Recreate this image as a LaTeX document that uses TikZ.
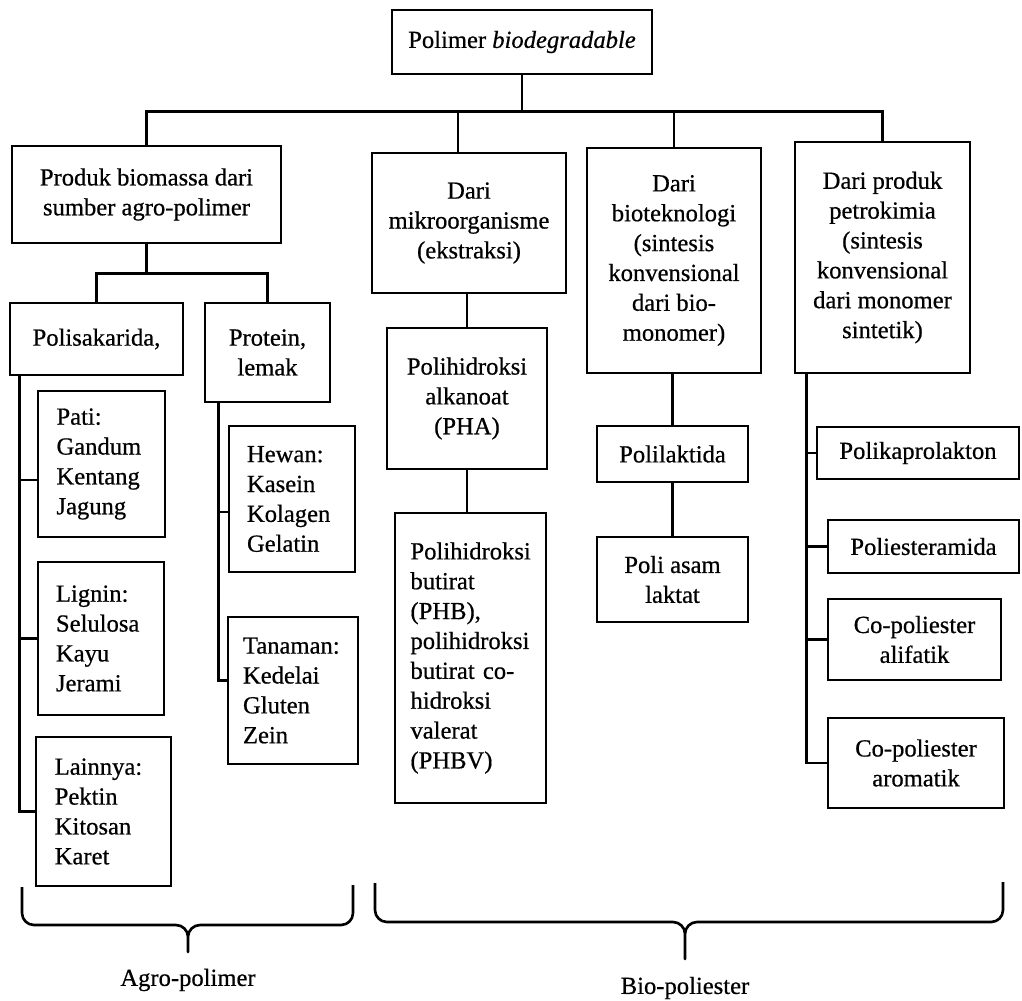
\documentclass[tikz,border=0pt]{standalone}
\usepackage{fontspec}
\setmainfont{Liberation Serif}[FakeBold=0.6]
\begin{document}
\begin{tikzpicture}[x=0.02cm,y=-0.02cm,
  every node/.style={font=\fontsize{14}{17}\selectfont},
  box/.style={draw,line width=1.5pt,align=center,inner sep=0pt},
  lbox/.style={draw,line width=1.5pt,align=left,inner sep=0pt},
  conn/.style={line width=1.5pt},
  brace/.style={line width=1.5pt,line join=round}]
\useasboundingbox (0,0) rectangle (1022,1001);

% top level
\node[box,minimum width=5.2cm,minimum height=1.28cm] (top) at (522,42) {Polimer \textit{biodegradable}};
\node[box,minimum width=5.38cm,minimum height=1.94cm] (b1) at (146.5,194.5) {Produk biomassa dari\\sumber agro-polimer};
\node[box,minimum width=3.88cm,minimum height=2.8cm] (b2) at (469,223) {Dari\\mikroorganisme\\(ekstraksi)};
\node[box,minimum width=3.48cm,minimum height=4.5cm] (b3) at (674,260.5) {Dari\\bioteknologi\\(sintesis\\konvensional\\dari bio-\\monomer)};
\node[box,minimum width=3.5cm,minimum height=4.62cm] (b4) at (882.5,257.5) {Dari produk\\petrokimia\\(sintesis\\konvensional\\dari monomer\\sintetik)};

% agro-polymer branch
\node[box,minimum width=3.46cm,minimum height=1.44cm] (pol) at (96.5,339) {Polisakarida,};
\node[box,minimum width=2.5cm,minimum height=1.98cm] (prot) at (267.5,352.5) {Protein,\\lemak};
\node[lbox,text width=1.8cm,minimum width=2.54cm,minimum height=2.92cm] (pati) at (101.5,464) {Pati:\\Gandum\\Kentang\\Jagung};
\node[lbox,text width=1.8cm,minimum width=2.52cm,minimum height=3.06cm] (lig) at (101,638.5) {Lignin:\\Selulosa\\Kayu\\Jerami};
\node[lbox,text width=1.95cm,minimum width=2.7cm,minimum height=2.98cm] (lain) at (103.5,811.5) {Lainnya:\\Pektin\\Kitosan\\Karet};
\node[lbox,text width=1.8cm,minimum width=2.52cm,minimum height=2.92cm] (hew) at (292,499) {Hewan:\\Kasein\\Kolagen\\Gelatin};
\node[lbox,text width=2.0cm,minimum width=2.6cm,minimum height=2.94cm] (tan) at (293,690.5) {Tanaman:\\Kedelai\\Gluten\\Zein};

% microorganism branch
\node[box,minimum width=3.2cm,minimum height=2.82cm] (pha) at (467,398.5) {Polihidroksi\\alkanoat\\(PHA)};
\node[lbox,text width=2.4cm,minimum width=3.02cm,minimum height=5.8cm] (phb) at (470.5,658) {Polihidroksi\\butirat\\(PHB),\\polihidroksi\\butirat co-\\hidroksi\\valerat\\(PHBV)};

% biotechnology branch
\node[box,minimum width=3.02cm,minimum height=1.12cm] (pla) at (672.5,454) {Polilaktida};
\node[box,minimum width=3.02cm,minimum height=1.7cm] (pasam) at (672.5,579.5) {Poli asam\\laktat};

% petrochemical branch
\node[box,minimum width=4.04cm,minimum height=1.04cm] (pcl) at (918,453) {Polikaprolakton};
\node[box,minimum width=3.82cm,minimum height=1.06cm] (pea) at (923.5,546.5) {Poliesteramida};
\node[box,minimum width=3.46cm,minimum height=1.62cm] (cal) at (914.5,639.5) {Co-poliester\\alifatik};
\node[box,minimum width=3.52cm,minimum height=1.8cm] (car) at (916,763) {Co-poliester\\aromatik};

% connectors: top bus
\coordinate (hub) at ([yshift=-0.72cm]top.south);
\draw[conn] (top.south) -- (hub);
\draw[conn] (b1.north) |- (hub) -| (b4.north);
\coordinate (d2) at ([xshift=-0.22cm]b2.north);
\draw[conn] (d2) -- (d2 |- hub);
\draw[conn] (b3.north) -- (b3.north |- hub);

% agro-polymer connectors
\coordinate (j1) at ([yshift=-0.58cm]b1.south);
\draw[conn] (b1.south) -- (j1);
\draw[conn] (pol.north) |- (j1) -| (prot.north);
\coordinate (s1) at ([xshift=0.22cm]pol.south west);
\draw[conn] (s1) |- (lain.west);
\coordinate (patiin) at ([yshift=-0.32cm]pati.west);
\draw[conn] (s1 |- patiin) -- (patiin);
\draw[conn] (s1 |- lig.west) -- (lig.west);
\coordinate (s2) at ([xshift=0.3cm]prot.south west);
\coordinate (tanin) at ([yshift=0.2cm]tan.west);
\draw[conn] (s2) |- (tanin);
\coordinate (hewin) at ([yshift=-0.26cm]hew.west);
\draw[conn] (s2 |- hewin) -- (hewin);

% microorganism connectors
\draw[conn] (pha.north) -- (pha.north |- b2.south);
\draw[conn] (pha.south) -- (pha.south |- phb.north);

% biotechnology connectors
\draw[conn] (pla.north) -- (pla.north |- b3.south);
\draw[conn] (pla.south) -- (pla.south |- pasam.north);

% petrochemical connectors
\coordinate (s3) at ([xshift=0.26cm]b4.south west);
\draw[conn] (s3) |- (car.west);
\draw[conn] (s3 |- pcl.west) -- (pcl.west);
\draw[conn] (s3 |- pea.west) -- (pea.west);
\draw[conn] (s3 |- cal.west) -- (cal.west);

% braces
\draw[brace] (22,887) -- (22,913) to[out=-90,in=180] (34,925) -- (176,925)
  to[out=0,in=90] (188,937) -- (188,952) -- (188,937)
  to[out=90,in=180] (200,925) -- (341,925) to[out=0,in=-90] (353,913) -- (353,885);
\draw[brace] (375,883) -- (375,910) to[out=-90,in=180] (387,922) -- (673,922)
  to[out=0,in=90] (685,934) -- (685,959) -- (685,934)
  to[out=90,in=180] (697,922) -- (991,922) to[out=0,in=-90] (1003,910) -- (1003,882);

\node (agro) at (188,980) {Agro-polimer};
\node (bio) at (685,988) {Bio-poliester};
\end{tikzpicture}
\end{document}
